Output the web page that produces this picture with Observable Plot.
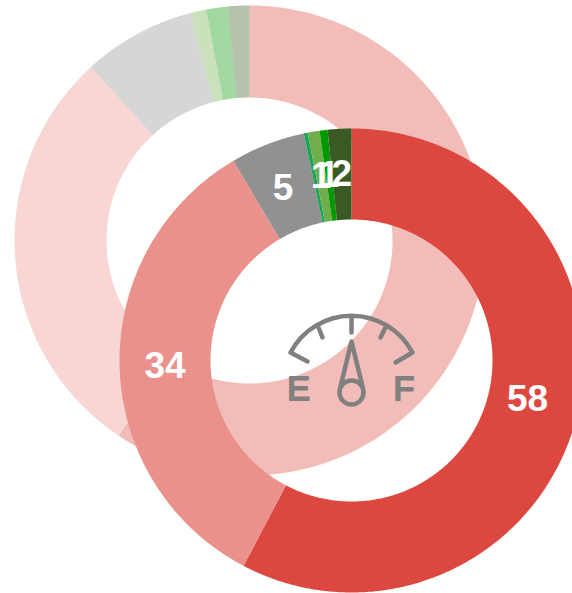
<!DOCTYPE html>
<html><head><meta charset="utf-8">
<script src="https://cdn.jsdelivr.net/npm/d3@7"></script>
<script src="https://cdn.jsdelivr.net/npm/@observablehq/plot@0.6"></script>
<style>html,body{margin:0;padding:0;background:#fff;overflow:hidden}svg{display:block}</style>
</head><body><div id="chart"></div>
<script>
const categories = ["a","b","c","d","e","f","g"];
const colors = ["#DC4840","#EA918B","#919191","#1FA35A","#6FAE4A","#009900","#3A5A24"];
const frontValues = [57.7,33.8,5.2,0.28,0.82,0.55,1.65];
const frontLabels = ["58","34","5","","1","1","2"];
const backValues = [59.4,28.8,7.75,0,1.1,1.5,1.45];
const frontRing = {cx:351,cy:360,outer:232,inner:141};
const backRing = {cx:249,cy:240,outer:235,inner:143};
const labelShiftX = [-5,0,-1,0,0,0,0];
const labelShiftY = [-6,1,1,0,0,0,0];
const labelFont = "Liberation Sans, Arial, sans-serif";
const gaugeColor = "#808080";

function ring(values, g){
  const arcs = d3.pie().sort(null).value(d=>d)(values);
  const rows = [];
  arcs.forEach((a,i)=>{
    if(a.endAngle<=a.startAngle) return;
    const n = Math.max(2,Math.ceil((a.endAngle-a.startAngle)/0.01));
    const ts = d3.range(n+1).map(k=>a.startAngle+(a.endAngle-a.startAngle)*k/n);
    const pts = [...ts.map(t=>[t,g.outer]),...ts.reverse().map(t=>[t,g.inner])];
    pts.forEach(([t,r])=>rows.push({cat:categories[i],x:g.cx+r*Math.sin(t),y:g.cy-r*Math.cos(t)}));
  });
  return rows;
}
const frontArcs = d3.pie().sort(null).value(d=>d)(frontValues);
const midR = (frontRing.outer+frontRing.inner)/2;
const labels = frontArcs.map((a,i)=>{
  const t=(a.startAngle+a.endAngle)/2;
  return {text:frontLabels[i],x:frontRing.cx+midR*Math.sin(t)+labelShiftX[i],y:frontRing.cy-midR*Math.cos(t)+labelShiftY[i]};
}).filter(d=>d.text);

// fuel gauge icon: a custom symbol drawn around the chart point
const gaugeIcon = {draw(c){
  c.moveTo(-61,-8); c.arc(0,24,68.8,-Math.PI+0.483,-0.483);
  c.moveTo(-61,-8); c.lineTo(-44,1);
  c.moveTo(61,-8); c.lineTo(44,2);
  c.moveTo(-33,-33); c.lineTo(-29,-23);
  c.moveTo(34,-33); c.lineTo(29,-23);
  c.moveTo(0,-44); c.lineTo(0,-28);
  c.moveTo(-11.5,28); c.lineTo(0,-19); c.lineTo(11.5,28);
  c.moveTo(12,32); c.arc(0,32,12,0,2*Math.PI);
}};

const fig = Plot.plot({
  width:572,height:593,margin:0,
  x:{domain:[0,572],range:[0,572],axis:null},
  y:{domain:[0,593],range:[0,593],axis:null},
  color:{domain:categories,range:colors},
  marks:[
    Plot.line(ring(backValues,backRing),{x:"x",y:"y",z:"cat",fill:"cat",stroke:null,fillOpacity:0.37,curve:"linear-closed"}),
    Plot.line(ring(frontValues,frontRing),{x:"x",y:"y",z:"cat",fill:"cat",stroke:null,curve:"linear-closed"}),
    Plot.text(labels,{x:"x",y:"y",text:"text",fill:"white",fontSize:37,fontWeight:"bold",fontFamily:labelFont}),
    Plot.dot([{x:frontRing.cx,y:frontRing.cy}],{x:"x",y:"y",r:10,symbol:gaugeIcon,fill:"none",stroke:gaugeColor,strokeWidth:4.5,strokeLinecap:"round",strokeLinejoin:"round"}),
    Plot.text([{t:"E",x:298,y:388.5},{t:"F",x:403.5,y:388.5}],{x:"x",y:"y",text:"t",fill:gaugeColor,stroke:gaugeColor,strokeWidth:2,strokeLinejoin:"round",fontSize:34,fontFamily:labelFont})
  ]
});
document.getElementById("chart").append(fig);
</script></body></html>
